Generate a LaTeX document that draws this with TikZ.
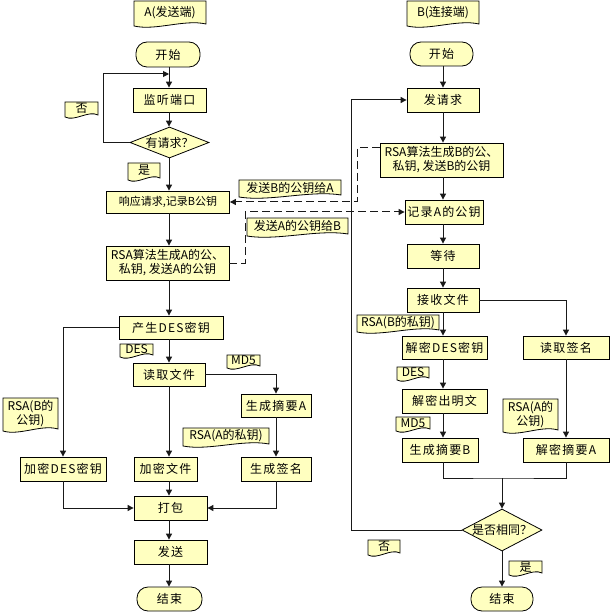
\documentclass[tikz,border=0pt]{standalone}
\usepackage{fontspec}
\setmainfont{Noto Sans CJK SC}
\usetikzlibrary{shapes.geometric,arrows.meta}
\definecolor{boxfill}{RGB}{255,255,192}
\definecolor{linec}{RGB}{25,25,25}
\newcommand\fs{\fontsize{12}{14}\selectfont}
\newcommand\fsp{\fontsize{12}{14}\selectfont\addfontfeatures{LetterSpace=10}}
\newcommand\fsn{\fontsize{11}{14}\selectfont}
\newcommand\doclabel[6]{%
  \draw[docsty] (#2,#3) -- (#4,#3) -- (#4,{#5-3})
    .. controls ({#2*0.3+#4*0.7},{#5-8}) and ({#2*0.7+#4*0.3},{#5+4}) .. (#2,{#5-1}) -- cycle;
  \node[lbltext] (#1) at ({(#2+#4)/2},{(#3+#5)/2-1.5}) {#6};
}
\begin{document}
\begin{tikzpicture}[x=1pt,y=-1pt,
  box/.style={draw=black, fill=boxfill, line width=0.8pt, inner sep=0pt, font=\fsp, align=center},
  term/.style={box, rounded corners=11pt},
  dia/.style={box, diamond, inner sep=-3pt, font=\fs},
  docsty/.style={draw=black, fill=boxfill, line width=0.8pt},
  lbltext/.style={inner sep=0pt, font=\fs, align=center},
  conn/.style={line width=1pt, draw=linec},
  arr/.style={conn, -{Triangle[length=6pt,width=6pt]}},
  dasharr/.style={arr, dash pattern=on 8pt off 4pt}]
\fill[white] (0,0) rectangle (610,612);
\useasboundingbox (0,0) rectangle (610,612);
\coordinate (colA) at (169,0);
\coordinate (colB) at (443,0);
% ---------- A column ----------
\doclabel{docA}{134}{1}{206}{27}{A(发送端)}
\node[term, minimum width=64, minimum height=25] (startA) at (168,54.5) {开始};
\node[box, minimum width=73, minimum height=24] (listen) at (169.5,100) {监听端口};
\node[dia, shape aspect=2.5, minimum width=79, minimum height=31] (ask) at (169.5,142.5) {有请求？};
\node[box, font=\fsn, minimum width=123, minimum height=22] (resp) at (168,202) {响应请求,记录B公钥};
\node[box, font=\fs, minimum width=123, minimum height=34] (rsaA) at (167.5,263) {RSA算法生成A的公、\\私钥, 发送A的公钥};
\node[box, minimum width=104, minimum height=23] (desA) at (171,327.5) {产生DES密钥};
\node[box, minimum width=72, minimum height=23] (readF) at (169,374.5) {读取文件};
\node[box, minimum width=70, minimum height=23] (digA) at (276,405.5) {生成摘要A};
\node[box, minimum width=86, minimum height=24] (encDES) at (63,469) {加密DES密钥};
\node[box, minimum width=63, minimum height=24] (encF) at (165.5,469) {加密文件};
\node[box, minimum width=70, minimum height=24] (sign) at (276,469) {生成签名};
\node[box, minimum width=73, minimum height=24] (pack) at (170.5,508) {打包};
\node[box, minimum width=73, minimum height=24] (send) at (170.5,552) {发送};
\node[term, minimum width=65, minimum height=24] (endA) at (169.5,599) {结束};
% ---------- B column ----------
\doclabel{docB}{407}{1}{479}{27}{B(连接端)}
\node[term, minimum width=63, minimum height=24] (startB) at (441.5,54) {开始};
\node[box, minimum width=72, minimum height=24] (req) at (443,100) {发请求};
\node[box, font=\fs, minimum width=123, minimum height=34] (rsaB) at (441.5,160) {RSA算法生成B的公、\\私钥, 发送B的公钥};
\node[box, minimum width=78, minimum height=24] (recA) at (444,212) {记录A的公钥};
\node[box, minimum width=72, minimum height=24] (wait) at (443,256) {等待};
\node[box, minimum width=72, minimum height=24] (recv) at (443,300) {接收文件};
\node[box, minimum width=85, minimum height=23] (decDES) at (444.5,347.5) {解密DES密钥};
\node[box, minimum width=86, minimum height=23] (readSig) at (566,347.5) {读取签名};
\node[box, minimum width=85, minimum height=24] (decText) at (444.5,401) {解密出明文};
\node[box, minimum width=76, minimum height=24] (digB) at (440,450) {生成摘要B};
\node[box, minimum width=86, minimum height=24] (decDig) at (566,450) {解密摘要A};
\node[dia, shape aspect=1.9, minimum width=80, minimum height=42] (same) at (502,530) {是否相同？};
\node[term, minimum width=62, minimum height=24] (endB) at (502,599) {结束};
% ---------- labels ----------
\doclabel{noA}{65}{102}{98}{118}{否}
\doclabel{yesA}{128}{163}{160}{181}{是}
\doclabel{sendBlbl}{239}{180}{341}{198}{发送B的公钥给A}
\doclabel{sendAlbl}{247}{218}{348}{237}{发送A的公钥给B}
\doclabel{des1}{120}{344}{153}{358}{DES}
\doclabel{md5a}{227}{355}{260}{369}{MD5}
\doclabel{rsaBpub}{3}{398}{58}{432}{RSA(B的\\公钥)}
\doclabel{rsaApriv}{183}{428}{269}{447}{RSA(A的私钥)}
\doclabel{rsaBpriv}{357}{315}{439}{333}{RSA(B的私钥)}
\doclabel{des2}{397}{367}{429}{381}{DES}
\doclabel{md5b}{396}{417}{430}{432}{MD5}
\doclabel{rsaApub}{503}{399}{558}{433}{RSA(A的\\公钥)}
\doclabel{noB}{368}{540}{400}{556}{否}
\doclabel{yesB}{509}{561}{542}{576}{是}
% ---------- A connectors ----------
\coordinate (loopA) at (103,74);
\draw[arr] (colA |- startA.south) -- (colA |- listen.north);
\draw[arr] (ask.west) -- (ask.west -| loopA) -- (loopA) -- (loopA -| colA);
\draw[arr] (colA |- listen.south) -- (colA |- ask.north);
\draw[arr] (colA |- ask.south) -- (colA |- resp.north);
\draw[arr] (colA |- resp.south) -- (colA |- rsaA.north);
\draw[arr] (colA |- rsaA.south) -- (colA |- desA.north);
\draw[arr] (colA |- desA.south) -- (colA |- readF.north);
\draw[arr] (colA |- readF.south) -- (colA |- encF.north);
\draw[arr] (colA |- encF.south) -- (colA |- pack.north);
\draw[arr] (colA |- pack.south) -- (colA |- send.north);
\draw[arr] (colA |- send.south) -- (colA |- endA.north);
\draw[arr] (desA.west) -| (encDES.north);
\draw[arr] (readF.east) -| (digA.north);
\draw[arr] (digA.south) -- (sign.north);
\draw[arr] (encDES.south) |- (pack.west);
\draw[arr] (sign.south) |- (pack.east);
% ---------- B connectors ----------
\draw[arr] (colB |- startB.south) -- (colB |- req.north);
\draw[arr] (colB |- req.south) -- (colB |- rsaB.north);
\draw[arr] (colB |- rsaB.south) -- (colB |- recA.north);
\draw[arr] (colB |- recA.south) -- (colB |- wait.north);
\draw[arr] (colB |- wait.south) -- (colB |- recv.north);
\draw[arr] (colB |- recv.south) -- (colB |- decDES.north);
\draw[arr] (colB |- decDES.south) -- (colB |- decText.north);
\draw[arr] (colB |- decText.south) -- (colB |- digB.north);
\draw[arr] (recv.east) -| (readSig.north);
\draw[arr] (readSig.south) -- (decDig.north);
\coordinate (mB) at (502,478);
\draw[conn] (colB |- digB.south) |- (mB) -| (decDig.south);
\draw[arr] (mB) -- (same.north);
\coordinate (loopB) at (351,530);
\draw[arr] (same.west) -- (loopB) |- (req.west);
\draw[arr] (same.south) -- (endB.north);
% ---------- dashed key exchange ----------
\coordinate (dB) at (357,202);
\draw[dasharr] ([yshift=-5pt]rsaB.north west) -| (dB) -- (resp.east);
\coordinate (dA) at (245,263);
\draw[dasharr] (rsaA.east) -- (dA) |- (recA.west);
\end{tikzpicture}
\end{document}
